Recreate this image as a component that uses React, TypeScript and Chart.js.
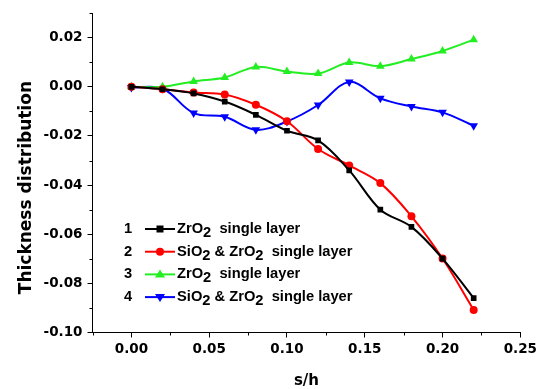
import React, { useEffect, useRef } from "react";
import { Chart, registerables } from "chart.js";

Chart.register(...registerables);

const xValues = [0, 0.02, 0.04, 0.06, 0.08, 0.1, 0.12, 0.14, 0.16, 0.18, 0.2, 0.22];
const series1ZrO2 = [0, -0.001, -0.0027, -0.006, -0.0114, -0.0179, -0.0218, -0.034, -0.05, -0.057, -0.0699, -0.086];
const series2SiO2ZrO2 = [0, -0.001, -0.0023, -0.0031, -0.0073, -0.014, -0.0253, -0.032, -0.0392, -0.0527, -0.0699, -0.0908];
const series3ZrO2 = [0, 0, 0.0022, 0.0038, 0.0081, 0.0062, 0.0054, 0.0099, 0.0084, 0.0113, 0.0146, 0.0192];
const series4SiO2ZrO2 = [-0.0003, -0.0007, -0.0107, -0.0122, -0.0175, -0.0141, -0.0074, 0.002, -0.0047, -0.008, -0.0104, -0.0159];

const xMajorTicks = [0, 0.05, 0.1, 0.15, 0.2, 0.25];
const xMinorTicks = [-0.025, 0.025, 0.075, 0.125, 0.175, 0.225];
const yMajorTicks = [-0.1, -0.08, -0.06, -0.04, -0.02, 0, 0.02];
const yMinorTicks = [-0.09, -0.07, -0.05, -0.03, -0.01, 0.01, 0.03];

const legendNumbers = ["1", "2", "3", "4"];
const legendLabels: { t: string; sub?: boolean }[][] = [
  [{ t: "ZrO" }, { t: "2", sub: true }, { t: "  single layer" }],
  [{ t: "SiO" }, { t: "2", sub: true }, { t: " & ZrO" }, { t: "2", sub: true }, { t: "  single layer" }],
  [{ t: "ZrO" }, { t: "2", sub: true }, { t: "  single layer" }],
  [{ t: "SiO" }, { t: "2", sub: true }, { t: " & ZrO" }, { t: "2", sub: true }, { t: "  single layer" }],
];

const COLORS = ["#000000", "#ff0000", "#22ee22", "#0000ff"];
const STYLES = ["rect", "circle", "triangle", "triangle"];
const ROTS = [0, 0, 0, 180];
const RADII = [4, 4, 5, 5];
const FONT = "Arial, 'Liberation Sans', sans-serif";
const WIDE = "'DejaVu Sans', sans-serif";

const toPts = (ys: number[]) => xValues.map((x, i) => ({ x, y: ys[i] }));

const minorTickPlugin = {
  id: "minorTicks",
  afterDraw(chart: any) {
    const ctx = chart.ctx;
    const xs = chart.scales.x;
    const ys = chart.scales.y;
    ctx.save();
    ctx.strokeStyle = "#000";
    ctx.lineWidth = 1;
    const axY = chart.chartArea.bottom;
    const axX = chart.chartArea.left;
    xMinorTicks.forEach((v) => {
      const px = Math.round(xs.getPixelForValue(v)) + 0.5;
      ctx.beginPath();
      ctx.moveTo(px, axY);
      ctx.lineTo(px, axY + 3);
      ctx.stroke();
    });
    yMinorTicks.forEach((v) => {
      const py = Math.round(ys.getPixelForValue(v)) + 0.5;
      ctx.beginPath();
      ctx.moveTo(axX, py);
      ctx.lineTo(axX - 3, py);
      ctx.stroke();
    });
    ctx.restore();
  },
};

const legendPlugin = {
  id: "customLegend",
  afterDraw(chart: any) {
    const ctx = chart.ctx;
    ctx.save();
    const startY = 229;
    const step = 22.7;
    legendNumbers.forEach((num, i) => {
      const y = startY + i * step;
      ctx.font = `bold 14.7px ${FONT}`;
      ctx.fillStyle = "#000";
      ctx.textBaseline = "middle";
      ctx.textAlign = "center";
      ctx.fillText(num, 128, y);
      ctx.strokeStyle = COLORS[i];
      ctx.lineWidth = 2;
      ctx.beginPath();
      ctx.moveTo(145, y);
      ctx.lineTo(175, y);
      ctx.stroke();
      ctx.fillStyle = COLORS[i];
      const mx = 160;
      if (i === 0) {
        ctx.fillRect(mx - 3.5, y - 3.5, 7, 7);
      } else if (i === 1) {
        ctx.beginPath();
        ctx.arc(mx, y, 4, 0, Math.PI * 2);
        ctx.fill();
      } else if (i === 2) {
        ctx.beginPath();
        ctx.moveTo(mx, y - 5);
        ctx.lineTo(mx + 5, y + 3);
        ctx.lineTo(mx - 5, y + 3);
        ctx.closePath();
        ctx.fill();
      } else {
        ctx.beginPath();
        ctx.moveTo(mx, y + 5);
        ctx.lineTo(mx + 5, y - 3);
        ctx.lineTo(mx - 5, y - 3);
        ctx.closePath();
        ctx.fill();
      }
      ctx.fillStyle = "#000";
      ctx.textAlign = "left";
      let x = 177;
      legendLabels[i].forEach((seg) => {
        ctx.font = `bold 14.7px ${FONT}`;
        const dy = seg.sub ? 4 : 0;
        ctx.fillText(seg.t, x, y + dy);
        x += ctx.measureText(seg.t).width;
      });
    });
    ctx.restore();
  },
};

export default function App() {
  const ref = useRef<HTMLCanvasElement | null>(null);
  useEffect(() => {
    if (!ref.current) return;
    const data = [series1ZrO2, series2SiO2ZrO2, series3ZrO2, series4SiO2ZrO2];
    const chart = new Chart(ref.current, {
      type: "line",
      data: {
        datasets: data.map((ys, i) => ({
          label: legendNumbers[i],
          data: toPts(ys),
          borderColor: COLORS[i],
          backgroundColor: COLORS[i],
          pointBackgroundColor: COLORS[i],
          pointBorderColor: COLORS[i],
          pointStyle: STYLES[i] as any,
          rotation: ROTS[i],
          pointRadius: RADII[i],
          pointBorderWidth: 0,
          borderWidth: 2,
          tension: 0.35,
          fill: false,
        })),
      },
      options: {
        animation: false,
        responsive: true,
        maintainAspectRatio: false,
        layout: { padding: { top: 12, right: 19, left: 0, bottom: 0 } },
        plugins: { legend: { display: false }, tooltip: { enabled: false } },
        scales: {
          x: {
            type: "linear",
            min: -0.025,
            max: 0.25,
            afterBuildTicks: (s: any) => {
              s.ticks = xMajorTicks.map((v) => ({ value: v }));
            },
            afterFit: (s: any) => {
              s.height = 56.5;
            },
            grid: { drawOnChartArea: false, drawTicks: true, tickLength: 5, color: "#000" },
            border: { display: true, color: "#000", width: 1 },
            ticks: {
              color: "#000",
              padding: 4,
              font: { family: WIDE, size: 13.5, weight: "bold" },
              callback: (v: any) => Number(v).toFixed(2),
            },
            title: {
              display: true,
              text: "s/h",
              color: "#000",
              font: { family: WIDE, size: 15, weight: "bold", lineHeight: 1 },
              padding: { top: 0, bottom: 0 },
            },
          },
          y: {
            type: "linear",
            min: -0.1,
            max: 0.03,
            afterBuildTicks: (s: any) => {
              s.ticks = yMajorTicks.map((v) => ({ value: v }));
            },
            afterFit: (s: any) => {
              s.width = 92.5;
            },
            grid: { drawOnChartArea: false, drawTicks: true, tickLength: 5, color: "#000" },
            border: { display: true, color: "#000", width: 1 },
            ticks: {
              color: "#000",
              padding: 5,
              font: { family: WIDE, size: 13.5, weight: "bold" },
              callback: (v: any) => Number(v).toFixed(2),
            },
            title: {
              display: true,
              text: "Thickness distribution     ",
              color: "#000",
              font: { family: WIDE, size: 17, weight: "bold", lineHeight: 1.2 },
              padding: { top: 16, bottom: 0 },
            },
          },
        },
      },
      plugins: [minorTickPlugin, legendPlugin],
    });
    return () => chart.destroy();
  }, []);
  return (
    <div style={{ position: "fixed", left: 0, top: 0, width: 541, height: 389, background: "#fff" }}>
      <canvas ref={ref} />
    </div>
  );
}
